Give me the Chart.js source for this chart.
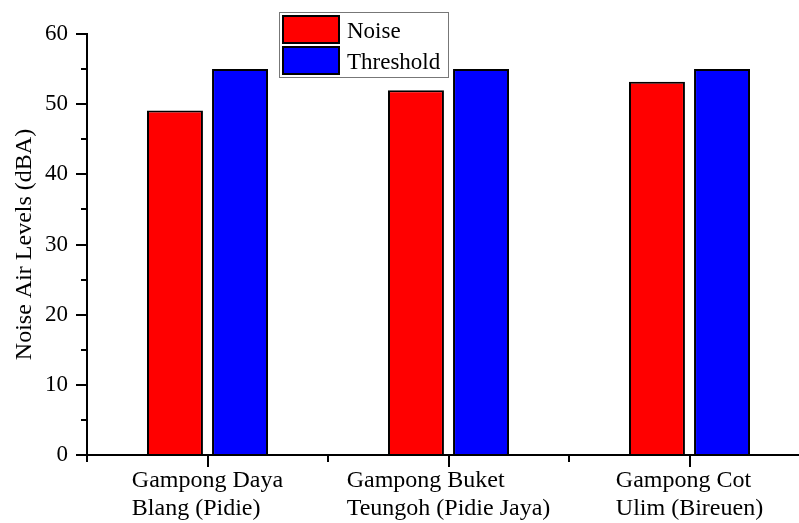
<!DOCTYPE html>
<html>
<head>
<meta charset="utf-8">
<style>
    html, body { margin: 0; padding: 0; background: #fff; overflow: hidden; }
    #wrap { width: 810px; height: 523px; }
</style>
</head>
<body>
<div id="wrap"><canvas id="noise-chart"></canvas></div>

<script src="https://cdn.jsdelivr.net/npm/chart.js"></script>
<script>
const sites = [
    ['Gampong Daya', 'Blang (Pidie)'],
    ['Gampong Buket', 'Teungoh (Pidie Jaya)'],
    ['Gampong Cot', 'Ulim (Bireuen)']
];
const noiseLevels = [49.1, 52, 53.2];
const thresholdLevels = [55, 55, 55];
const yTicks = [0, 10, 20, 30, 40, 50, 60];

const serif = '"Liberation Serif", "Times New Roman", serif';

// minor ticks, left-aligned two-line category labels and the boxed legend
const extras = {
    id: 'extras',
    afterDraw(chart) {
        const ctx = chart.ctx;
        const x = chart.scales.x;
        const y = chart.scales.y;
        const area = chart.chartArea;
        ctx.save();
        ctx.strokeStyle = '#000';
        ctx.lineWidth = 2;

        // y minor ticks
        for (let v = 5; v < 60; v += 10) {
            const py = Math.round(y.getPixelForValue(v));
            ctx.beginPath();
            ctx.moveTo(area.left - 6, py);
            ctx.lineTo(area.left, py);
            ctx.stroke();
        }
        // x minor ticks at category boundaries
        const step = x.getPixelForValue(1) - x.getPixelForValue(0);
        for (let i = 0; i <= sites.length; i++) {
            const px = Math.round(x.getPixelForValue(i) - step / 2);
            ctx.beginPath();
            ctx.moveTo(px, area.bottom);
            ctx.lineTo(px, area.bottom + 7);
            ctx.stroke();
        }

        // category labels
        ctx.fillStyle = '#000';
        ctx.font = '24px ' + serif;
        ctx.textAlign = 'left';
        ctx.textBaseline = 'alphabetic';
        sites.forEach((lines, i) => {
            const w = Math.max(...lines.map(l => ctx.measureText(l).width));
            const left = x.getPixelForValue(i) - w / 2;
            lines.forEach((l, j) => {
                ctx.fillText(l, left, area.bottom + 32 + j * 28);
            });
        });

        // legend
        const lx = 279, ly = 12;
        ctx.fillStyle = '#fff';
        ctx.fillRect(lx, ly, 169, 65);
        ctx.strokeStyle = '#777';
        ctx.lineWidth = 1;
        ctx.strokeRect(lx + 0.5, ly + 0.5, 169, 65);
        ctx.font = '23px ' + serif;
        chart.data.datasets.forEach((ds, i) => {
            const sy = ly + 4 + i * 31;
            ctx.fillStyle = ds.backgroundColor;
            ctx.fillRect(lx + 4, sy, 56, 27);
            ctx.strokeStyle = '#000';
            ctx.lineWidth = 2;
            ctx.strokeRect(lx + 4, sy, 56, 27);
            ctx.fillStyle = '#000';
            ctx.fillText(ds.label, lx + 68, sy + 22);
        });
        ctx.restore();
    }
};

new Chart(document.getElementById('noise-chart'), {
    type: 'bar',
    data: {
        labels: sites,
        datasets: [
            {
                label: 'Noise',
                data: noiseLevels,
                backgroundColor: '#ff0000',
                borderColor: '#000',
                borderWidth: 2,
                categoryPercentage: 0.54,
                barPercentage: 0.86
            },
            {
                label: 'Threshold',
                data: thresholdLevels,
                backgroundColor: '#0000ff',
                borderColor: '#000',
                borderWidth: 2,
                categoryPercentage: 0.54,
                barPercentage: 0.86
            }
        ]
    },
    options: {
        responsive: true,
        maintainAspectRatio: false,
        animation: false,
        layout: { padding: { top: 34, left: 0, right: 0, bottom: 0 } },
        plugins: {
            legend: { display: false },
            tooltip: { enabled: false }
        },
        scales: {
            x: {
                offset: true,
                afterFit(scale) { scale.height = 68; },
                grid: {
                    offset: false,
                    drawOnChartArea: false,
                    drawTicks: true,
                    tickLength: 12,
                    color: '#000',
                    lineWidth: 2
                },
                border: { display: true, color: '#000', width: 2 },
                ticks: { display: false }
            },
            y: {
                min: 0,
                max: 60,
                afterFit(scale) { scale.width = 87; },
                afterBuildTicks(scale) {
                    scale.ticks = yTicks.map(v => ({ value: v }));
                },
                grid: {
                    drawOnChartArea: false,
                    drawTicks: true,
                    tickLength: 11,
                    color: '#000',
                    lineWidth: 2
                },
                border: { display: true, color: '#000', width: 2 },
                ticks: {
                    color: '#000',
                    padding: 8,
                    font: { family: serif, size: 23 }
                },
                title: {
                    display: true,
                    text: 'Noise Air Levels (dBA)',
                    color: '#000',
                    padding: { top: 10, bottom: 0 },
                    font: { family: serif, size: 24 }
                }
            }
        }
    },
    plugins: [extras]
});
</script>
</body>
</html>
